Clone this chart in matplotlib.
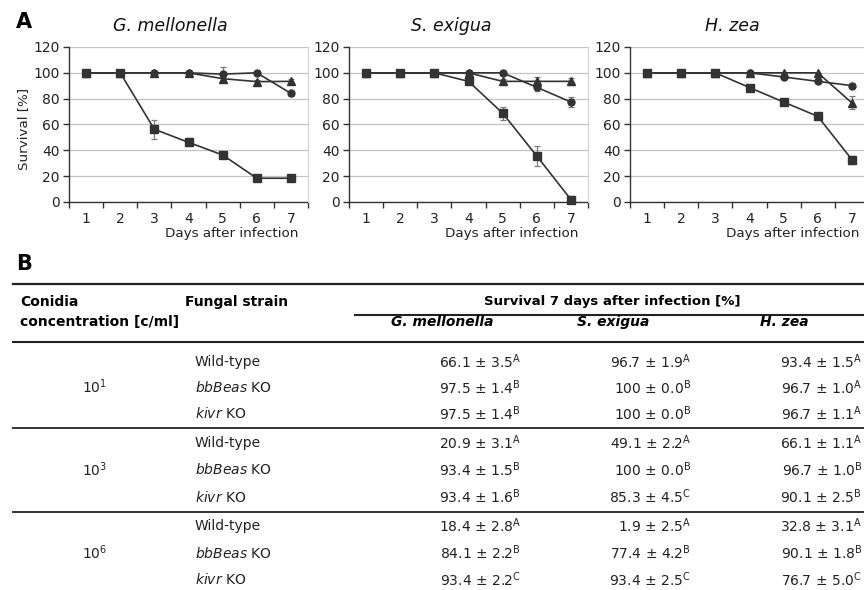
import matplotlib
matplotlib.use('Agg')
import matplotlib.pyplot as plt
from matplotlib.lines import Line2D

# ---------------- data: panel A ----------------
days = [1, 2, 3, 4, 5, 6, 7]
species = ["G. mellonella", "S. exigua", "H. zea"]

# wild-type (square), bbBeas KO (circle), kivr KO (triangle)
gm_wt = [100, 100, 56.3, 46.2, 36.4, 18.4, 18.4]
gm_wt_err = [0, 0, 7.5, 3, 1.5, 1, 1.5]
gm_bb = [100, 100, 100, 100, 99, 100, 84.1]
gm_bb_err = [0, 0, 0, 0, 5.5, 0.8, 2.2]
gm_kv = [100, 100, 100, 100, 95.5, 93.2, 93.4]
gm_kv_err = [0, 0, 0, 0, 2, 1, 1.5]

se_wt = [100, 100, 100, 93.4, 68.8, 35.6, 1.9]
se_wt_err = [0, 0, 0, 1.5, 5, 7.5, 2.5]
se_bb = [100, 100, 100, 100, 100, 88.8, 77.4]
se_bb_err = [0, 0, 0, 0, 0, 2.5, 4.2]
se_kv = [100, 100, 100, 100, 93.4, 93.4, 93.4]
se_kv_err = [0, 0, 0, 0, 1.5, 3.5, 2.5]

hz_wt = [100, 100, 100, 88.6, 77.4, 66.3, 32.8]
hz_wt_err = [0, 0, 0, 2, 1.5, 1.5, 3.1]
hz_bb = [100, 100, 100, 100, 96.8, 93.4, 90.1]
hz_bb_err = [0, 0, 0, 0, 1.5, 1.5, 1.8]
hz_kv = [100, 100, 100, 100, 100, 100, 76.7]
hz_kv_err = [0, 0, 0, 0, 0, 0, 5.0]

y_ticks = [0, 20, 40, 60, 80, 100, 120]

# ---------------- data: panel B ----------------
concentrations = ["10$^{1}$", "10$^{3}$", "10$^{6}$"]
strains = ["Wild-type", r"$\mathit{bbBeas}$ KO", r"$\mathit{kivr}$ KO"]
tab_gm_mean = [66.1, 97.5, 97.5, 20.9, 93.4, 93.4, 18.4, 84.1, 93.4]
tab_gm_err = [3.5, 1.4, 1.4, 3.1, 1.5, 1.6, 2.8, 2.2, 2.2]
tab_gm_grp = ["A", "B", "B", "A", "B", "B", "A", "B", "C"]
tab_se_mean = [96.7, 100, 100, 49.1, 100, 85.3, 1.9, 77.4, 93.4]
tab_se_err = [1.9, 0.0, 0.0, 2.2, 0.0, 4.5, 2.5, 4.2, 2.5]
tab_se_grp = ["A", "B", "B", "A", "B", "C", "A", "B", "C"]
tab_hz_mean = [93.4, 96.7, 96.7, 66.1, 96.7, 90.1, 32.8, 90.1, 76.7]
tab_hz_err = [1.5, 1.0, 1.1, 1.1, 1.0, 2.5, 3.1, 1.8, 5.0]
tab_hz_grp = ["A", "A", "A", "A", "B", "B", "A", "B", "C"]

# ---------------- figure ----------------
W, H = 864, 590
fig = plt.figure(figsize=(W / 100, H / 100), dpi=100)
plt.rcParams['font.family'] = ['DejaVu Sans']
plt.rcParams['mathtext.fontset'] = 'dejavusans'


def fx(px):
    return px / W


def fy(py):
    return 1 - py / H


LINE = '#333333'
ERR = '#7a7a7a'
GRID = '#c4c4c4'

panels = [
    (69, 170, [(gm_wt, gm_wt_err), (gm_bb, gm_bb_err), (gm_kv, gm_kv_err)]),
    (349, 451, [(se_wt, se_wt_err), (se_bb, se_bb_err), (se_kv, se_kv_err)]),
    (630, 732, [(hz_wt, hz_wt_err), (hz_bb, hz_bb_err), (hz_kv, hz_kv_err)]),
]
markers = [('s', 5.4), ('o', 5.0), ('^', 6.0)]
ax_w = 239
top_px, bot_px = 47, 202

for i, (left, tcx, series) in enumerate(panels):
    ax = fig.add_axes([fx(left), fy(bot_px), fx(ax_w), (bot_px - top_px) / H])
    ax.set_xlim(0.5, 7.5)
    ax.set_ylim(0, 120)
    ax.set_yticks(y_ticks)
    ax.set_xticks([k + 0.5 for k in range(0, 8)])
    ax.set_xticklabels([])
    ax.set_xticks(days, minor=True)
    ax.set_xticklabels([str(d) for d in days], minor=True, fontsize=10)
    ax.tick_params(axis='x', which='major', direction='out', length=4, width=1, color=LINE)
    ax.tick_params(axis='x', which='minor', length=0, pad=7.5, labelcolor='#222')
    ax.tick_params(axis='y', direction='out', length=4, width=1, color=LINE,
                   labelsize=10, pad=2.5, labelcolor='#222')
    ax.grid(axis='y', color=GRID, lw=0.9, zorder=0)
    ax.set_axisbelow(True)
    ax.spines['top'].set_visible(False)
    ax.spines['right'].set_color('#d0d0d0')
    ax.spines['right'].set_linewidth(0.8)
    ax.spines['left'].set_color(LINE)
    ax.spines['bottom'].set_color(LINE)
    ax.spines['left'].set_linewidth(1.0)
    ax.spines['bottom'].set_linewidth(1.0)
    ax.spines['bottom'].set_zorder(1)
    for (vals, errs), (m, ms) in zip(series, markers):
        ax.errorbar(days, vals, yerr=errs, fmt='none', ecolor=ERR, elinewidth=0.9,
                    capsize=2, capthick=0.9, zorder=2, clip_on=False)
        ax.plot(days, vals, color=LINE, lw=1.2, marker=m, ms=ms, mfc=LINE, mec=LINE,
                zorder=3, clip_on=False)
    fig.text(fx(tcx), fy(26), species[i], fontsize=12.5, style='italic',
             ha='center', va='center', color='#111')
    fig.text(fx(left + ax_w - 10), fy(233), "Days after infection", fontsize=9.7,
             ha='right', va='center', color='#222')

fig.text(fx(24), fy(129), "Survival [%]", rotation=90, fontsize=9.7,
         ha='center', va='center', color='#222')
fig.text(fx(16), fy(22), "A", fontsize=15, fontweight='bold', ha='left', va='center')
fig.text(fx(16), fy(264), "B", fontsize=15, fontweight='bold', ha='left', va='center')

# ---------------- table ----------------
def hline(y, x0, x1, lw=1.5, color='#222'):
    fig.add_artist(Line2D([fx(x0), fx(x1)], [fy(y), fy(y)], transform=fig.transFigure,
                          color=color, lw=lw))


hline(284, 13, 864, lw=1.6)
hline(315, 355, 864, lw=1.5)
hline(342, 13, 864, lw=1.5)
hline(428, 13, 864, lw=1.4, color='#333')
hline(512, 13, 864, lw=1.4, color='#333')

TS = 10
fig.text(fx(20), fy(302), "Conidia", fontsize=TS, fontweight='bold', ha='left', va='center')
fig.text(fx(20), fy(322), "concentration [c/ml]", fontsize=TS, fontweight='bold',
         ha='left', va='center')
fig.text(fx(185), fy(302), "Fungal strain", fontsize=TS, fontweight='bold',
         ha='left', va='center')
fig.text(fx(612), fy(302), "Survival 7 days after infection [%]", fontsize=9.5,
         fontweight='bold', ha='center', va='center')
for name, cx in zip(species, [442, 613, 784]):
    fig.text(fx(cx), fy(322), name, fontsize=TS, fontweight='bold', style='italic',
             ha='center', va='center')

row_y = [362, 388, 414, 443, 470, 497, 526, 553, 580]
conc_y = [387, 470, 553]
for c, y in zip(concentrations, conc_y):
    fig.text(fx(82), fy(y), c, fontsize=TS, ha='left', va='center', color='#222')


def fmt(m, e, g):
    return f"{m:g} ± {e:.1f}$^{{\\mathrm{{{g}}}}}$"


for r, y in enumerate(row_y):
    fig.text(fx(195), fy(y), strains[r % 3], fontsize=TS, ha='left', va='center', color='#222')
    fig.text(fx(521), fy(y), fmt(tab_gm_mean[r], tab_gm_err[r], tab_gm_grp[r]),
             fontsize=TS, ha='right', va='center', color='#222')
    fig.text(fx(691), fy(y), fmt(tab_se_mean[r], tab_se_err[r], tab_se_grp[r]),
             fontsize=TS, ha='right', va='center', color='#222')
    fig.text(fx(862), fy(y), fmt(tab_hz_mean[r], tab_hz_err[r], tab_hz_grp[r]),
             fontsize=TS, ha='right', va='center', color='#222')

fig.savefig("out.png", dpi=100)
